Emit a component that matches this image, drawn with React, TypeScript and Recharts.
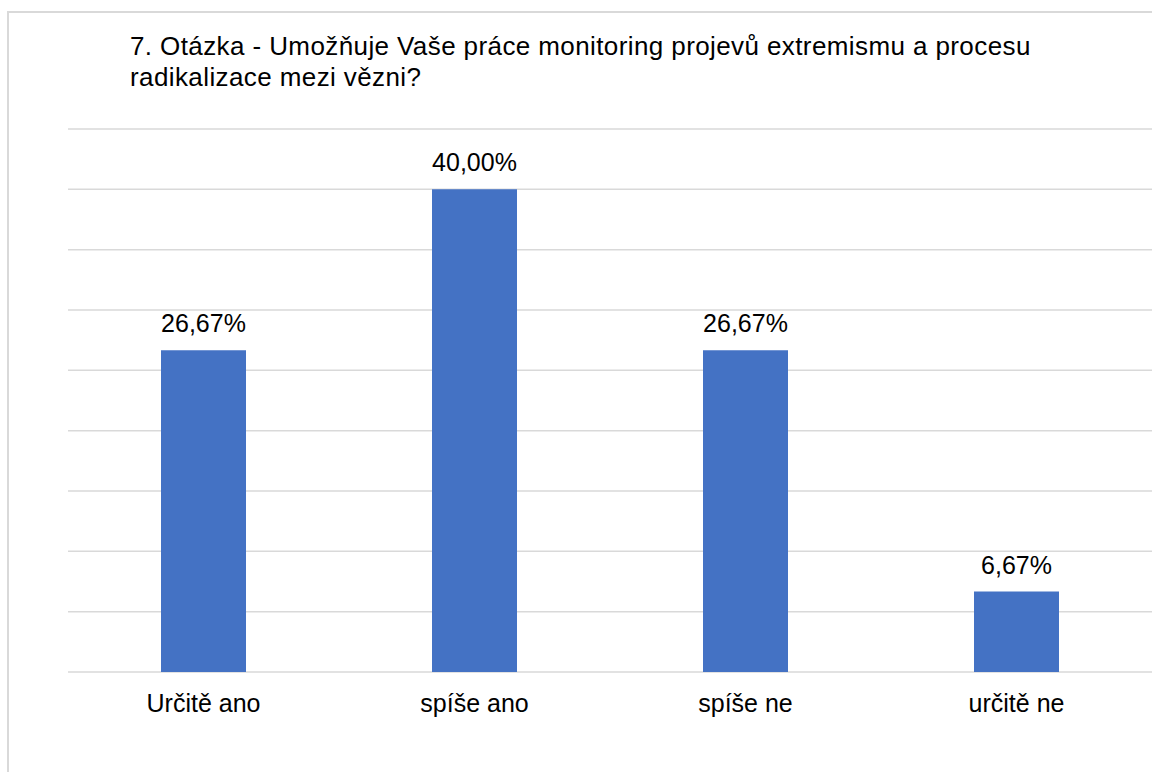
import { BarChart, Bar, XAxis, YAxis, CartesianGrid, LabelList } from "recharts";

// answers to question 7
const categories = ["Určitě ano", "spíše ano", "spíše ne", "určitě ne"];
const shares = [26.67, 40.0, 26.67, 6.67];
const yTicks = [0, 5, 10, 15, 20, 25, 30, 35, 40, 45];

const title1 = "7. Otázka - Umožňuje Vaše práce monitoring projevů extremismu a procesu";
const title2 = "radikalizace mezi vězni?";

const data = categories.map((name, i) => ({ name, value: shares[i] }));

const font = '"Liberation Sans", Arial, sans-serif';

const fmt = (v: any) => Number(v).toFixed(2).replace(".", ",") + "%";

export default function App() {
    return (
        <div style={{ position: "fixed", left: 0, top: 0, width: 1152, height: 772, background: "#fff", overflow: "hidden", fontFamily: font }}>
            {/* chart frame */}
            <div style={{ position: "absolute", left: 7, top: 11, width: 1200, height: 900, border: "2px solid #d9d9d9", boxSizing: "border-box" }} />
            <div style={{ position: "absolute", left: 130, top: 31, fontSize: 26, letterSpacing: 0.4, lineHeight: "31px", color: "#000", whiteSpace: "nowrap" }}>
                <div>{title1}</div>
                <div>{title2}</div>
            </div>
            <div style={{ position: "absolute", left: 0, top: 0 }}>
                <BarChart width={1152} height={772} data={data} margin={{ top: 129, right: 0, bottom: 70, left: 68 }}>
                    <CartesianGrid vertical={false} stroke="#d9d9d9" strokeWidth={1.5} />
                    <YAxis hide domain={[0, 45]} ticks={yTicks} />
                    <XAxis
                        dataKey="name"
                        axisLine={false}
                        tickLine={false}
                        tickSize={0}
                        tickMargin={22}
                        interval={0}
                        height={30}
                        tick={{ fill: "#000", fontSize: 25, fontFamily: font }}
                    />
                    <Bar dataKey="value" fill="#4472c4" barSize={85} isAnimationActive={false}>
                        <LabelList dataKey="value" position="top" offset={18} formatter={fmt} fill="#000" fontSize={25} fontFamily={font} />
                    </Bar>
                </BarChart>
            </div>
        </div>
    );
}
